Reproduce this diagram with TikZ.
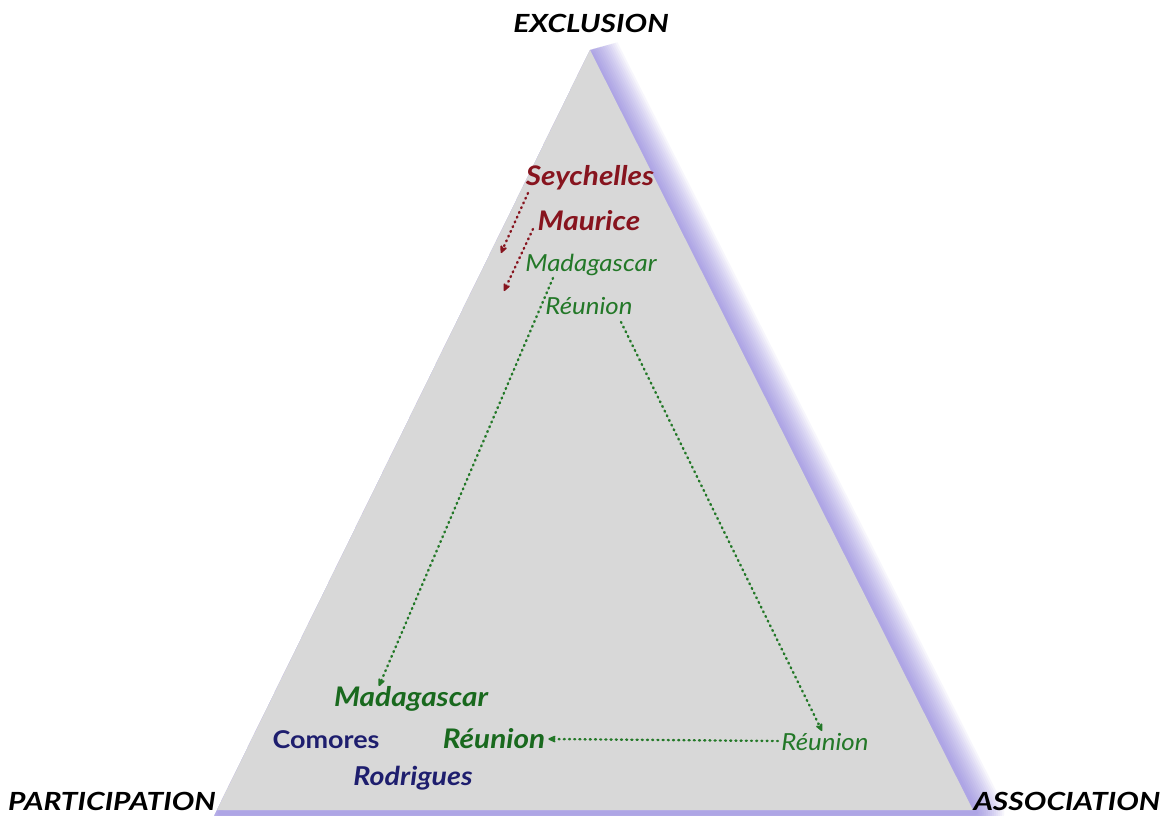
\documentclass[tikz,border=0pt]{standalone}
\usepackage{fontspec}
\setmainfont{Lato}
\newfontfamily\capfont{Lato}[FakeStretch=1.2]
\newfontfamily\labfont{Lato}[FakeStretch=1.1]
\usetikzlibrary{arrows.meta}
\definecolor{trigray}{RGB}{216,216,216}
\definecolor{shadowc}{RGB}{115,100,215}
\definecolor{darkred}{RGB}{135,20,30}
\definecolor{mygreen}{RGB}{35,120,40}
\definecolor{boldgreen}{RGB}{25,105,30}
\definecolor{navy}{RGB}{30,30,110}
\tikzset{
  corner/.style={font=\capfont\fontsize{25}{28}\selectfont\bfseries\itshape, text=black, inner sep=0pt},
  bigred/.style={font=\labfont\fontsize{27}{30}\selectfont\bfseries\itshape, text=darkred, inner sep=0pt},
  smallgreen/.style={font=\labfont\fontsize{23.5}{26}\selectfont\itshape, text=mygreen, inner sep=0pt},
  biggreen/.style={font=\labfont\fontsize{27}{30}\selectfont\bfseries\itshape, text=boldgreen, inner sep=0pt},
  bignavy/.style={font=\labfont\fontsize{26}{30}\selectfont\bfseries\itshape, text=navy, inner sep=0pt},
  redarrow/.style={darkred, line width=2.4pt, dash pattern=on 1pt off 4.2pt, line cap=round, -{Stealth[length=10pt,width=9pt,round]}},
  greenarrow/.style={mygreen, line width=2.4pt, dash pattern=on 1pt off 4.2pt, line cap=round, -{Stealth[length=10pt,width=9pt,round]}},
}
\begin{document}
\begin{tikzpicture}[x=1pt,y=-1pt]
\useasboundingbox (0,0) rectangle (1170,816);
\fill[white] (0,0) rectangle (1170,816);
% shadow glow (clipped to the right of the left edge)
\begin{scope}
  \clip (590,50) -- (214,816) -- (1170,816) -- (1170,300) -- (640,36) -- cycle;
  \foreach \w in {56,52,...,4}{
    \draw[shadowc, opacity=0.055, line width=\w pt, line join=round]
      (592,54) -- (976,813) -- (220,813) -- cycle;
  }
\end{scope}
\fill[trigray] (590,50) -- (973,810) -- (217,810) -- cycle;
% corner labels
\node[corner] (excl) at (591,23) {EXCLUSION};
\node[corner] (part) at (112,801) {PARTICIPATION};
\node[corner] (assoc) at (1067,801) {ASSOCIATION};
% top group
\node[bigred] (sey) at (590,178) {Seychelles};
\node[bigred] (mau) at (589,221) {Maurice};
\node[smallgreen] (mad1) at (591,265) {Madagascar};
\node[smallgreen] (reu1) at (589,306) {Réunion};
% bottom
\node[biggreen] (mad2) at (411,699) {Madagascar};
\node[bignavy, font=\labfont\fontsize{24.5}{30}\selectfont\bfseries] (com) at (326,740) {Comores};
\node[biggreen] (reu2) at (494,739) {Réunion};
\node[bignavy] (rod) at (413,778) {Rodrigues};
\node[smallgreen] (reu3) at (825,742) {Réunion};
% arrows
\coordinate (r1s) at (528,193);
\coordinate (r1e) at (501,253);
\coordinate (r2s) at (533,229);
\coordinate (r2e) at (504,291);
\draw[redarrow] (r1s) -- (r1e);
\draw[redarrow] (r2s) -- (r2e);
\coordinate (g1s) at (553,278);
\coordinate (g1e) at (379,686);
\draw[greenarrow] (g1s) -- (g1e);
\coordinate (g2s) at (621,322);
\coordinate (g2e) at (822,731);
\draw[greenarrow] (g2s) -- (g2e);
\coordinate (g3s) at (778,741);
\draw[greenarrow] (g3s) -- ([xshift=3pt]reu2.east);
\end{tikzpicture}
\end{document}
